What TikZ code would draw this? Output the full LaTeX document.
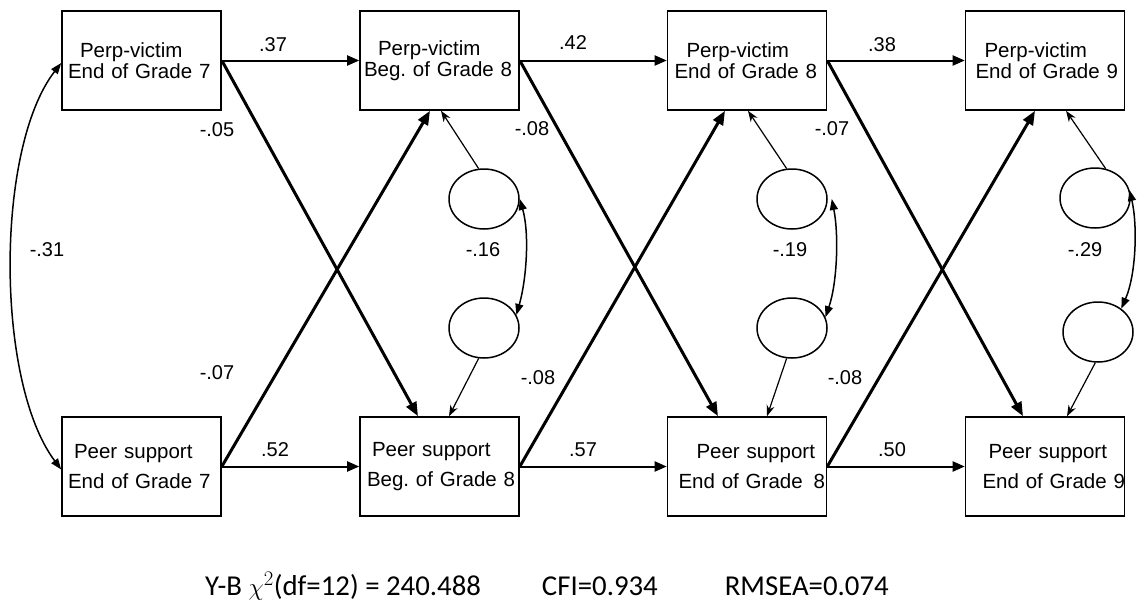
\documentclass[tikz,border=0pt]{standalone}
\usepackage{fontspec}
\setmainfont{Liberation Sans}
\newfontfamily\fitfont{Carlito}
\usetikzlibrary{arrows.meta,shapes.geometric,calc}
\frenchspacing

\begin{document}
\begin{tikzpicture}[x=1pt,y=-1pt,
  box/.style={draw,line width=1.6pt,minimum height=99pt,text width=159pt,
    inner sep=0pt,align=left,font=\fontsize{20.5}{21}\selectfont},
  pvbox/.style={box},
  psbox/.style={box,font=\fontsize{20.5}{30}\selectfont},
  err/.style={ellipse,draw,line width=1.5pt,minimum width=70pt,
    minimum height=60pt,inner sep=0pt},
  direct/.style={line width=2pt,-{Triangle[length=12pt,width=10pt]}},
  cross/.style={line width=3pt,-{Triangle[length=14pt,width=11pt]}},
  resid/.style={line width=1.2pt,-{Stealth[length=11pt,width=8pt]}},
  cov/.style={line width=1.5pt,
    {Triangle[length=11pt,width=8pt]}-{Triangle[length=11pt,width=8pt]}},
  coef/.style={font=\fontsize{20}{24}\selectfont,inner sep=0pt}
]
\useasboundingbox (0,0) rectangle (1138,608);

% observed variables
\node[pvbox] (pv7)  at (141.5,60.5) {\hspace*{18pt}\mbox{Perp-victim}\\\hspace*{6pt}\mbox{End of Grade 7}};
\node[pvbox] (pv8b) at (439.5,60.5) {\hspace*{18pt}\mbox{Perp-victim}\\\hspace*{4pt}\mbox{Beg. of Grade 8}};
\node[pvbox] (pv8e) at (747,60.5)   {\hspace*{19pt}\mbox{Perp-victim}\\\hspace*{7pt}\mbox{End of Grade 8}};
\node[pvbox] (pv9)  at (1045,60.5)  {\hspace*{19pt}\mbox{Perp-victim}\\\hspace*{10pt}\mbox{End of Grade 9}};

\node[psbox] (ps7)  at (141.5,466.5) {\hspace*{12pt}\mbox{Peer support}\\\hspace*{6pt}\mbox{End of Grade 7}};
\node[psbox] (ps8b) at (439.5,466.5) {\hspace*{12pt}\mbox{Peer support}\\\hspace*{7pt}\mbox{Beg. of Grade 8}};
\node[psbox] (ps8e) at (747,466.5)   {\hspace*{29pt}\mbox{Peer support}\\\hspace*{11pt}\mbox{End of Grade\hspace{11pt}8}};
\node[psbox] (ps9)  at (1045,466.5)  {\hspace*{23pt}\mbox{Peer support}\\\hspace*{17pt}\mbox{End of Grade 9}};

% residual terms
\node[err] (e1a) at (484,199) {};
\node[err] (e1b) at (484,328) {};
\node[err] (e2a) at (792,199) {};
\node[err] (e2b) at (792,328) {};
\node[err] (e3a) at (1095,198) {};
\node[err] (e3b) at (1098,332) {};

% stability paths
\draw[direct] (pv7.east)  -- (pv8b.west);
\draw[direct] (pv8b.east) -- (pv8e.west);
\draw[direct] (pv8e.east) -- (pv9.west);
\draw[direct] (ps7.east)  -- (ps8b.west);
\draw[direct] (ps8b.east) -- (ps8e.west);
\draw[direct] (ps8e.east) -- (ps9.west);

% cross-lagged paths
\draw[cross] (pv7.east)  -- ([xshift=-21.5pt]ps8b.north);
\draw[cross] (ps7.east)  -- ([xshift=-9.5pt]pv8b.south);
\draw[cross] (pv8b.east) -- ([xshift=-29pt]ps8e.north);
\draw[cross] (ps8b.east) -- ([xshift=-22pt]pv8e.south);
\draw[cross] (pv8e.east) -- ([xshift=-22pt]ps9.north);
\draw[cross] (ps8e.east) -- ([xshift=-10pt]pv9.south);

% residual paths
\draw[resid] (e1a.100) -- ([xshift=1.5pt]pv8b.south);
\draw[resid] (e1b.260) -- ([xshift=9.5pt]ps8b.north);
\draw[resid] (e2a.100) -- ([xshift=1pt]pv8e.south);
\draw[resid] (e2b.260) -- ([xshift=20pt]ps8e.north);
\draw[resid] (e3a.70)  -- ([xshift=21pt]pv9.south);
\draw[resid] (e3b.265) -- ([xshift=22pt]ps9.north);

% covariances
\draw[cov] ([yshift=-2.5pt]pv7.west) .. controls +(-66,85) and +(-66,-88) .. ([yshift=-3pt]ps7.west);
\draw[cov] (e1a.east) .. controls +(10,35) and +(10,-35) .. (e1b.22);
\draw[cov] ([xshift=4pt]e2a.east) .. controls +(7,35) and +(12,-35) .. (e2b.18);
\draw[cov] (e3a.13) .. controls +(8,35) and +(15,-35) .. (e3b.45);

% coefficients
\node[coef] (c1)  at (273,45)  {.37};
\node[coef] (c2)  at (573,43)  {.42};
\node[coef] (c3)  at (882,45)  {.38};
\node[coef] (c4)  at (275,450) {.52};
\node[coef] (c5)  at (583,450) {.57};
\node[coef] (c6)  at (892,450) {.50};
\node[coef] (c7)  at (217,130) {-.05};
\node[coef] (c8)  at (217,373) {-.07};
\node[coef] (c9)  at (532,129) {-.08};
\node[coef] (c10) at (538,378) {-.08};
\node[coef] (c11) at (832,129) {-.07};
\node[coef] (c12) at (845,378) {-.08};
\node[coef] (c13) at (483,250) {-.16};
\node[coef] (c14) at (790,250) {-.19};
\node[coef] (c15) at (1085,250) {-.29};
\node[coef] (c16) at (47,250)  {-.31};

% fit statistics
\node[anchor=base west,inner sep=0pt,font=\fitfont\fontsize{28.8}{32}\selectfont] (fit) at (205,595)
  {Y-B $\chi^{2}$(df=12) = 240.488\hspace{61pt}CFI=0.934\hspace{67pt}RMSEA=0.074};
\end{tikzpicture}
\end{document}
